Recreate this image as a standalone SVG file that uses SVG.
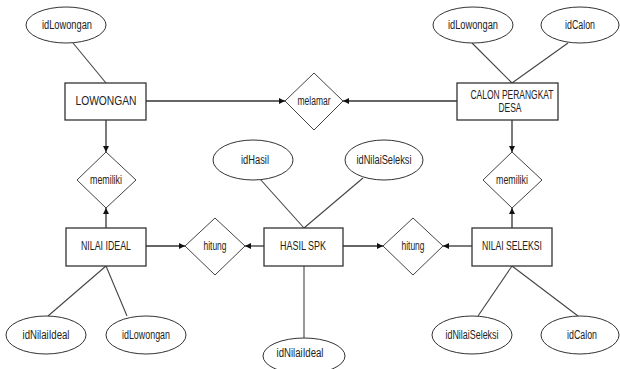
<svg xmlns="http://www.w3.org/2000/svg" width="620" height="369" viewBox="0 0 620 369">
<defs>
<marker id="arr" viewBox="0 0 10 10" refX="10" refY="5" markerWidth="6" markerHeight="6" markerUnits="userSpaceOnUse" orient="auto">
<path d="M0,0 L10,5 L0,10 z" fill="#111"/>
</marker>
</defs>
<style>
.ent{fill:#fff;stroke:#333;stroke-width:1.3}
.rel{fill:#fff;stroke:#444;stroke-width:1}
.att{fill:#fff;stroke:#333;stroke-width:1}
.ln{fill:none;stroke:#444;stroke-width:1.1}
.ar{fill:none;stroke:#333;stroke-width:1.3;marker-end:url(#arr)}
text{font-family:"Liberation Sans",Arial,sans-serif;font-size:12px;fill:#222;text-anchor:middle;dominant-baseline:central}
</style>
<rect width="620" height="369" fill="#fff"/>
<g id="connectors">
<line class="ar" x1="146" y1="101" x2="285" y2="101"/>
<line class="ar" x1="457" y1="101" x2="343" y2="101"/>
<line class="ar" x1="106" y1="120" x2="106" y2="152"/>
<line class="ar" x1="106" y1="228" x2="106" y2="208"/>
<line class="ar" x1="512" y1="120" x2="512" y2="152"/>
<line class="ar" x1="512" y1="228" x2="512" y2="208"/>
<line class="ar" x1="146" y1="246" x2="185" y2="246"/>
<line class="ar" x1="264" y1="246" x2="245" y2="246"/>
<line class="ar" x1="343" y1="246" x2="383" y2="246"/>
<line class="ar" x1="472" y1="246" x2="443" y2="246"/>
<line class="ln" x1="73" y1="43" x2="106" y2="83"/>
<line class="ln" x1="472" y1="43" x2="512" y2="83"/>
<line class="ln" x1="568" y1="43" x2="512" y2="83"/>
<line class="ln" x1="260" y1="179" x2="304" y2="228"/>
<line class="ln" x1="363" y1="178" x2="304" y2="228"/>
<line class="ln" x1="106" y1="266" x2="48" y2="316"/>
<line class="ln" x1="106" y1="266" x2="127" y2="316"/>
<line class="ln" x1="304" y1="266" x2="304" y2="338"/>
<line class="ln" x1="512" y1="266" x2="478" y2="316"/>
<line class="ln" x1="512" y1="266" x2="578" y2="316"/>
</g>
<g id="lowongan"><rect class="ent" x="65" y="83" width="81" height="37"/><text x="106" y="101" textLength="61" lengthAdjust="spacingAndGlyphs">LOWONGAN</text></g>
<g id="calon"><rect class="ent" x="457" y="83" width="101" height="37"/><text x="512" y="95" textLength="83" lengthAdjust="spacingAndGlyphs">CALON PERANGKAT</text><text x="510" y="108" textLength="23" lengthAdjust="spacingAndGlyphs">DESA</text></g>
<g id="nilaiideal"><rect class="ent" x="66" y="228" width="80" height="38"/><text x="106" y="246" textLength="50" lengthAdjust="spacingAndGlyphs">NILAI IDEAL</text></g>
<g id="hasilspk"><rect class="ent" x="264" y="228" width="79" height="38"/><text x="303" y="246" textLength="46" lengthAdjust="spacingAndGlyphs">HASIL SPK</text></g>
<g id="nilaiseleksi"><rect class="ent" x="472" y="228" width="80" height="38"/><text x="512" y="246" textLength="60" lengthAdjust="spacingAndGlyphs">NILAI SELEKSI</text></g>
<g id="melamar"><polygon class="rel" points="285,101 314,73 343,101 314,130"/><text x="314" y="101" textLength="33" lengthAdjust="spacingAndGlyphs">melamar</text></g>
<g id="memiliki1"><polygon class="rel" points="77,180 106,152 136,180 106,208"/><text x="106" y="180" textLength="32" lengthAdjust="spacingAndGlyphs">memiliki</text></g>
<g id="memiliki2"><polygon class="rel" points="483,180 512,152 542,180 512,208"/><text x="512" y="180" textLength="32" lengthAdjust="spacingAndGlyphs">memiliki</text></g>
<g id="hitung1"><polygon class="rel" points="185,246 215,218 245,246 215,275"/><text x="215" y="246" textLength="23" lengthAdjust="spacingAndGlyphs">hitung</text></g>
<g id="hitung2"><polygon class="rel" points="383,246 413,218 443,246 413,275"/><text x="413" y="246" textLength="23" lengthAdjust="spacingAndGlyphs">hitung</text></g>
<g id="attr-idLowongan1"><ellipse class="att" cx="66" cy="25" rx="40" ry="18"/><text x="67" y="25" textLength="50" lengthAdjust="spacingAndGlyphs">idLowongan</text></g>
<g id="attr-idLowongan2"><ellipse class="att" cx="473" cy="25" rx="40" ry="18"/><text x="473" y="25" textLength="50" lengthAdjust="spacingAndGlyphs">idLowongan</text></g>
<g id="attr-idCalon1"><ellipse class="att" cx="580" cy="25" rx="39" ry="18"/><text x="580" y="25" textLength="30" lengthAdjust="spacingAndGlyphs">idCalon</text></g>
<g id="attr-idHasil"><ellipse class="att" cx="253" cy="160" rx="40" ry="20"/><text x="255" y="160" textLength="28" lengthAdjust="spacingAndGlyphs">idHasil</text></g>
<g id="attr-idNilaiSeleksi1"><ellipse class="att" cx="384" cy="160" rx="39" ry="20"/><text x="384" y="160" textLength="55" lengthAdjust="spacingAndGlyphs">idNilaiSeleksi</text></g>
<g id="attr-idNilaiIdeal1"><ellipse class="att" cx="46" cy="335" rx="40" ry="19"/><text x="46" y="335" textLength="47" lengthAdjust="spacingAndGlyphs">idNilaiIdeal</text></g>
<g id="attr-idLowongan3"><ellipse class="att" cx="146" cy="335" rx="40" ry="19"/><text x="146" y="335" textLength="48" lengthAdjust="spacingAndGlyphs">idLowongan</text></g>
<g id="attr-idNilaiIdeal2"><ellipse class="att" cx="304" cy="356" rx="41" ry="18"/><text x="300" y="353" textLength="47" lengthAdjust="spacingAndGlyphs">idNilaiIdeal</text></g>
<g id="attr-idNilaiSeleksi2"><ellipse class="att" cx="472" cy="335" rx="40" ry="19"/><text x="472" y="335" textLength="53" lengthAdjust="spacingAndGlyphs">idNilaiSeleksi</text></g>
<g id="attr-idCalon2"><ellipse class="att" cx="580" cy="335" rx="39" ry="19"/><text x="582" y="335" textLength="30" lengthAdjust="spacingAndGlyphs">idCalon</text></g>
</svg>
